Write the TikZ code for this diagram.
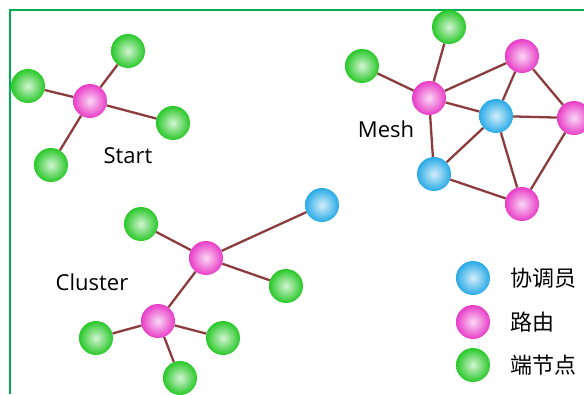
\documentclass[tikz,border=0pt]{standalone}
\usepackage{fontspec}
\setmainfont{Open Sans}
\newfontfamily\cjk{Noto Sans CJK SC}
\usetikzlibrary{positioning}
\definecolor{framegreen}{RGB}{0,176,80}
\definecolor{linkbrown}{RGB}{140,60,60}
\definecolor{coordblue}{RGB}{40,170,230}
\definecolor{routerpink}{RGB}{232,60,200}
\definecolor{endgreen}{RGB}{40,200,40}
\tikzset{
	ball/.style={circle,minimum size=34pt,inner sep=0pt,shading=radial},
	coordball/.style={ball,inner color=white!80!coordblue,outer color=coordblue},
	routerball/.style={ball,inner color=white!80!routerpink,outer color=routerpink},
	endball/.style={ball,inner color=white!80!endgreen,outer color=endgreen},
	link/.style={draw=linkbrown,line width=2.3pt},
	tag/.style={font=\fontsize{22}{22}\selectfont},
	cjktag/.style={anchor=west,font=\cjk\fontsize{22}{22}\selectfont}
}

\begin{document}
\begin{tikzpicture}[x=1pt,y=-1pt]
\useasboundingbox (0,0) rectangle (584,394);
\draw [framegreen,line width=2pt] (10,394) -- (10,10) -- (584,10);
% star
\node [routerball] (s0) at (90,101) {};
\node [endball] (s1) at (128,51) {};
\node [endball] (s2) at (28,86) {};
\node [endball] (s3) at (173,123) {};
\node [endball] (s4) at (51,165) {};
\foreach \n in {s1,s2,s3,s4}
	\draw [link] (s0) -- (\n);
\node [tag] (startlbl) at (128,156) {Start};
% mesh
\node [endball] (m1) at (449,27) {};
\node [endball] (m2) at (362,66) {};
\node [routerball] (m3) at (429,98) {};
\node [routerball] (m4) at (522,56) {};
\node [routerball] (m5) at (574,118) {};
\node [routerball] (m6) at (522,204) {};
\node [coordball] (m7) at (496,116) {};
\node [coordball] (m8) at (434,174) {};
\foreach \a/\b in {m1/m3,m2/m3,m3/m4,m3/m7,m3/m8,m4/m7,m4/m5,m7/m5,m7/m8,m7/m6,m5/m6,m8/m6}
	\draw [link] (\a) -- (\b);
\node [tag] (meshlbl) at (386,129) {Mesh};
% cluster
\node [coordball] (c0) at (322,205) {};
\node [routerball] (c1) at (206,258) {};
\node [routerball] (c2) at (158,321) {};
\node [endball] (c3) at (141,224) {};
\node [endball] (c4) at (286,286) {};
\node [endball] (c5) at (96,338) {};
\node [endball] (c6) at (223,338) {};
\node [endball] (c7) at (180,378) {};
\foreach \a/\b in {c0/c1,c3/c1,c1/c4,c1/c2,c2/c5,c2/c6,c2/c7}
	\draw [link] (\a) -- (\b);
\node [tag] (clusterlbl) at (92,282) {Cluster};
% legend
\node [coordball] (k1) at (473,278) {};
\node [routerball] (k2) at (473,322) {};
\node [endball] (k3) at (473,365) {};
\node [cjktag] (k1lbl) at (507,278) {协调员};
\node [cjktag] (k2lbl) at (507,322) {路由};
\node [cjktag] (k3lbl) at (507,365) {端节点};
\end{tikzpicture}
\end{document}
